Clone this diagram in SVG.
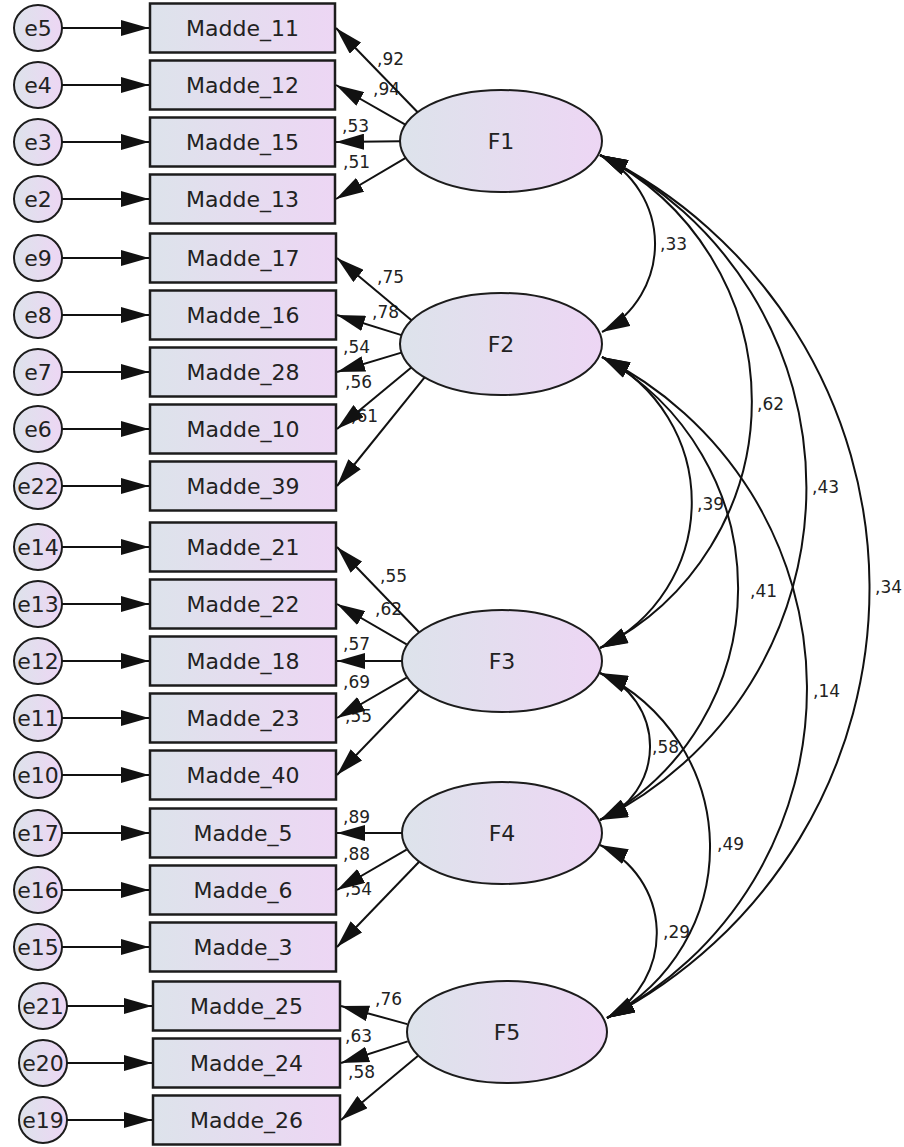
<svg xmlns="http://www.w3.org/2000/svg" width="904" height="1147" viewBox="0 0 904 1147">
<defs>
<linearGradient id="g" x1="0" y1="0" x2="1" y2="0">
<stop offset="0" stop-color="#dde3eb"/>
<stop offset="1" stop-color="#edd6f4"/>
</linearGradient>
<marker id="ah" viewBox="0 0 28 16" refX="28" refY="8" markerWidth="28" markerHeight="16" markerUnits="userSpaceOnUse" orient="auto-start-reverse">
<path d="M0,0 L28,8 L0,16 z" fill="#111"/>
</marker>
<style>
.box{fill:url(#g);stroke:#1c1c1c;stroke-width:2.5}
.ell{fill:url(#g);stroke:#1c1c1c;stroke-width:2}
.lbl{font-family:"DejaVu Sans",sans-serif;font-size:22px;fill:#222;text-anchor:middle}
.num{font-family:"DejaVu Sans",sans-serif;font-size:17px;fill:#222}
.ln{stroke:#111;stroke-width:2;fill:none;marker-end:url(#ah)}
.cv{stroke:#111;stroke-width:2;fill:none;marker-start:url(#ah);marker-end:url(#ah)}
</style>
</defs>
<rect width="904" height="1147" fill="#fff"/>

<!-- error nodes -->
<g id="e5"><ellipse class="ell" cx="38" cy="28" rx="24" ry="23"/><text class="lbl" x="38" y="36">e5</text></g>
<g id="e4"><ellipse class="ell" cx="38" cy="85" rx="24" ry="23"/><text class="lbl" x="38" y="93">e4</text></g>
<g id="e3"><ellipse class="ell" cx="38" cy="142" rx="24" ry="23"/><text class="lbl" x="38" y="150">e3</text></g>
<g id="e2"><ellipse class="ell" cx="38" cy="199" rx="24" ry="23"/><text class="lbl" x="38" y="207">e2</text></g>
<g id="e9"><ellipse class="ell" cx="38" cy="258" rx="24" ry="23"/><text class="lbl" x="38" y="266">e9</text></g>
<g id="e8"><ellipse class="ell" cx="38" cy="315" rx="24" ry="23"/><text class="lbl" x="38" y="323">e8</text></g>
<g id="e7"><ellipse class="ell" cx="38" cy="372" rx="24" ry="23"/><text class="lbl" x="38" y="380">e7</text></g>
<g id="e6"><ellipse class="ell" cx="38" cy="429" rx="24" ry="23"/><text class="lbl" x="38" y="437">e6</text></g>
<g id="e22"><ellipse class="ell" cx="38" cy="486" rx="24" ry="23"/><text class="lbl" x="38" y="494">e22</text></g>
<g id="e14"><ellipse class="ell" cx="38" cy="547" rx="24" ry="23"/><text class="lbl" x="38" y="555">e14</text></g>
<g id="e13"><ellipse class="ell" cx="38" cy="604" rx="24" ry="23"/><text class="lbl" x="38" y="612">e13</text></g>
<g id="e12"><ellipse class="ell" cx="38" cy="661" rx="24" ry="23"/><text class="lbl" x="38" y="669">e12</text></g>
<g id="e11"><ellipse class="ell" cx="38" cy="718" rx="24" ry="23"/><text class="lbl" x="38" y="726">e11</text></g>
<g id="e10"><ellipse class="ell" cx="38" cy="775" rx="24" ry="23"/><text class="lbl" x="38" y="783">e10</text></g>
<g id="e17"><ellipse class="ell" cx="38" cy="833" rx="24" ry="23"/><text class="lbl" x="38" y="841">e17</text></g>
<g id="e16"><ellipse class="ell" cx="38" cy="890" rx="24" ry="23"/><text class="lbl" x="38" y="898">e16</text></g>
<g id="e15"><ellipse class="ell" cx="38" cy="947" rx="24" ry="23"/><text class="lbl" x="38" y="955">e15</text></g>
<g id="e21"><ellipse class="ell" cx="43" cy="1006" rx="24" ry="23"/><text class="lbl" x="43" y="1014">e21</text></g>
<g id="e20"><ellipse class="ell" cx="43" cy="1063" rx="24" ry="23"/><text class="lbl" x="43" y="1071">e20</text></g>
<g id="e19"><ellipse class="ell" cx="43" cy="1120" rx="24" ry="23"/><text class="lbl" x="43" y="1128">e19</text></g>

<!-- observed variables -->
<g id="Madde_11"><rect class="box" x="150" y="3.5" width="185" height="49"/><text class="lbl" x="242.5" y="36">Madde_11</text></g>
<g id="Madde_12"><rect class="box" x="150" y="60.5" width="185" height="49"/><text class="lbl" x="242.5" y="93">Madde_12</text></g>
<g id="Madde_15"><rect class="box" x="150" y="117.5" width="185" height="49"/><text class="lbl" x="242.5" y="150">Madde_15</text></g>
<g id="Madde_13"><rect class="box" x="150" y="174.5" width="185" height="49"/><text class="lbl" x="242.5" y="207">Madde_13</text></g>
<g id="Madde_17"><rect class="box" x="150" y="233.5" width="186" height="49"/><text class="lbl" x="243" y="266">Madde_17</text></g>
<g id="Madde_16"><rect class="box" x="150" y="290.5" width="186" height="49"/><text class="lbl" x="243" y="323">Madde_16</text></g>
<g id="Madde_28"><rect class="box" x="150" y="347.5" width="186" height="49"/><text class="lbl" x="243" y="380">Madde_28</text></g>
<g id="Madde_10"><rect class="box" x="150" y="404.5" width="186" height="49"/><text class="lbl" x="243" y="437">Madde_10</text></g>
<g id="Madde_39"><rect class="box" x="150" y="461.5" width="186" height="49"/><text class="lbl" x="243" y="494">Madde_39</text></g>
<g id="Madde_21"><rect class="box" x="150" y="522.5" width="186" height="49"/><text class="lbl" x="243" y="555">Madde_21</text></g>
<g id="Madde_22"><rect class="box" x="150" y="579.5" width="186" height="49"/><text class="lbl" x="243" y="612">Madde_22</text></g>
<g id="Madde_18"><rect class="box" x="150" y="636.5" width="186" height="49"/><text class="lbl" x="243" y="669">Madde_18</text></g>
<g id="Madde_23"><rect class="box" x="150" y="693.5" width="186" height="49"/><text class="lbl" x="243" y="726">Madde_23</text></g>
<g id="Madde_40"><rect class="box" x="150" y="750.5" width="186" height="49"/><text class="lbl" x="243" y="783">Madde_40</text></g>
<g id="Madde_5"><rect class="box" x="150" y="808.5" width="186" height="49"/><text class="lbl" x="243" y="841">Madde_5</text></g>
<g id="Madde_6"><rect class="box" x="150" y="865.5" width="186" height="49"/><text class="lbl" x="243" y="898">Madde_6</text></g>
<g id="Madde_3"><rect class="box" x="150" y="922.5" width="186" height="49"/><text class="lbl" x="243" y="955">Madde_3</text></g>
<g id="Madde_25"><rect class="box" x="153" y="981.5" width="187" height="49"/><text class="lbl" x="246.5" y="1014">Madde_25</text></g>
<g id="Madde_24"><rect class="box" x="153" y="1038.5" width="187" height="49"/><text class="lbl" x="246.5" y="1071">Madde_24</text></g>
<g id="Madde_26"><rect class="box" x="153" y="1095.5" width="187" height="49"/><text class="lbl" x="246.5" y="1128">Madde_26</text></g>

<!-- latent factors -->
<g id="F1"><ellipse class="ell" cx="501" cy="141" rx="101" ry="51"/><text class="lbl" x="501" y="149">F1</text></g>
<g id="F2"><ellipse class="ell" cx="501" cy="344" rx="101" ry="51"/><text class="lbl" x="501" y="352">F2</text></g>
<g id="F3"><ellipse class="ell" cx="502" cy="661" rx="100" ry="51"/><text class="lbl" x="502" y="669">F3</text></g>
<g id="F4"><ellipse class="ell" cx="502" cy="833" rx="100" ry="51"/><text class="lbl" x="502" y="841">F4</text></g>
<g id="F5"><ellipse class="ell" cx="507" cy="1032" rx="100" ry="51"/><text class="lbl" x="507" y="1040">F5</text></g>

<g id="connectors">
<g id="labels">
<text class="num" x="377" y="65">,92</text>
<text class="num" x="373" y="95">,94</text>
<text class="num" x="342" y="132">,53</text>
<text class="num" x="343" y="168">,51</text>
<text class="num" x="377" y="283">,75</text>
<text class="num" x="372" y="318">,78</text>
<text class="num" x="343" y="353">,54</text>
<text class="num" x="345" y="388">,56</text>
<text class="num" x="351" y="422">,61</text>
<text class="num" x="380" y="582">,55</text>
<text class="num" x="375" y="615">,62</text>
<text class="num" x="343" y="650">,57</text>
<text class="num" x="343" y="688">,69</text>
<text class="num" x="345" y="722">,55</text>
<text class="num" x="343" y="823">,89</text>
<text class="num" x="343" y="860">,88</text>
<text class="num" x="345" y="895">,54</text>
<text class="num" x="375" y="1005">,76</text>
<text class="num" x="345" y="1042">,63</text>
<text class="num" x="348" y="1078">,58</text>
<text class="num" x="660" y="250">,33</text>
<text class="num" x="757" y="410">,62</text>
<text class="num" x="812" y="493">,43</text>
<text class="num" x="875" y="593">,34</text>
<text class="num" x="697" y="510">,39</text>
<text class="num" x="750" y="597">,41</text>
<text class="num" x="813" y="697">,14</text>
<text class="num" x="652" y="753">,58</text>
<text class="num" x="717" y="850">,49</text>
<text class="num" x="663" y="938">,29</text>
</g>
<!-- error arrows -->
<path class="ln" d="M62,28 H149"/>
<path class="ln" d="M62,85 H149"/>
<path class="ln" d="M62,142 H149"/>
<path class="ln" d="M62,199 H149"/>
<path class="ln" d="M62,258 H149"/>
<path class="ln" d="M62,315 H149"/>
<path class="ln" d="M62,372 H149"/>
<path class="ln" d="M62,429 H149"/>
<path class="ln" d="M62,486 H149"/>
<path class="ln" d="M62,547 H149"/>
<path class="ln" d="M62,604 H149"/>
<path class="ln" d="M62,661 H149"/>
<path class="ln" d="M62,718 H149"/>
<path class="ln" d="M62,775 H149"/>
<path class="ln" d="M62,833 H149"/>
<path class="ln" d="M62,890 H149"/>
<path class="ln" d="M62,947 H149"/>
<path class="ln" d="M67,1006 H152"/>
<path class="ln" d="M67,1063 H152"/>
<path class="ln" d="M67,1120 H152"/>
<!-- loadings -->
<path class="ln" d="M417.7,112.2 L336,28"/>
<path class="ln" d="M405.3,124.6 L336,85"/>
<path class="ln" d="M400,141.3 L336,142"/>
<path class="ln" d="M405.7,157.9 L336,199"/>
<path class="ln" d="M411.5,320.3 L337,258"/>
<path class="ln" d="M401.5,335.1 L337,315"/>
<path class="ln" d="M401.4,352.6 L337,372"/>
<path class="ln" d="M411.3,367.5 L337,429"/>
<path class="ln" d="M424.6,377.4 L337,486"/>
<path class="ln" d="M418.9,632 L337,547"/>
<path class="ln" d="M406.6,644.4 L337,604"/>
<path class="ln" d="M402,661 L337,661"/>
<path class="ln" d="M406.6,677.6 L337,718"/>
<path class="ln" d="M418.9,690 L337,775"/>
<path class="ln" d="M402,833 L337,833"/>
<path class="ln" d="M406.6,849.6 L337,890"/>
<path class="ln" d="M418.9,862 L337,947"/>
<path class="ln" d="M407.2,1024.1 L341,1006"/>
<path class="ln" d="M407.7,1041.4 L341,1063"/>
<path class="ln" d="M417.8,1055.9 L341,1120"/>
<!-- covariances -->
<path class="cv" d="M600,155 A99.5,99.5 0 0 1 602,332"/>
<path class="cv" d="M600,155 A276,276 0 0 1 600,648"/>
<path class="cv" d="M600,155 A371,371 0 0 1 600,820"/>
<path class="cv" d="M600,155 A483,483 0 0 1 607,1018"/>
<path class="cv" d="M602,357 A162,162 0 0 1 600,648"/>
<path class="cv" d="M602,357 A264,264 0 0 1 600,820"/>
<path class="cv" d="M602,357 A371,371 0 0 1 607,1018"/>
<path class="cv" d="M600,673 A79,79 0 0 1 600,820"/>
<path class="cv" d="M600,673 A193,193 0 0 1 607,1018"/>
<path class="cv" d="M600,845 A97,97 0 0 1 607,1018"/>
</g>
</svg>
